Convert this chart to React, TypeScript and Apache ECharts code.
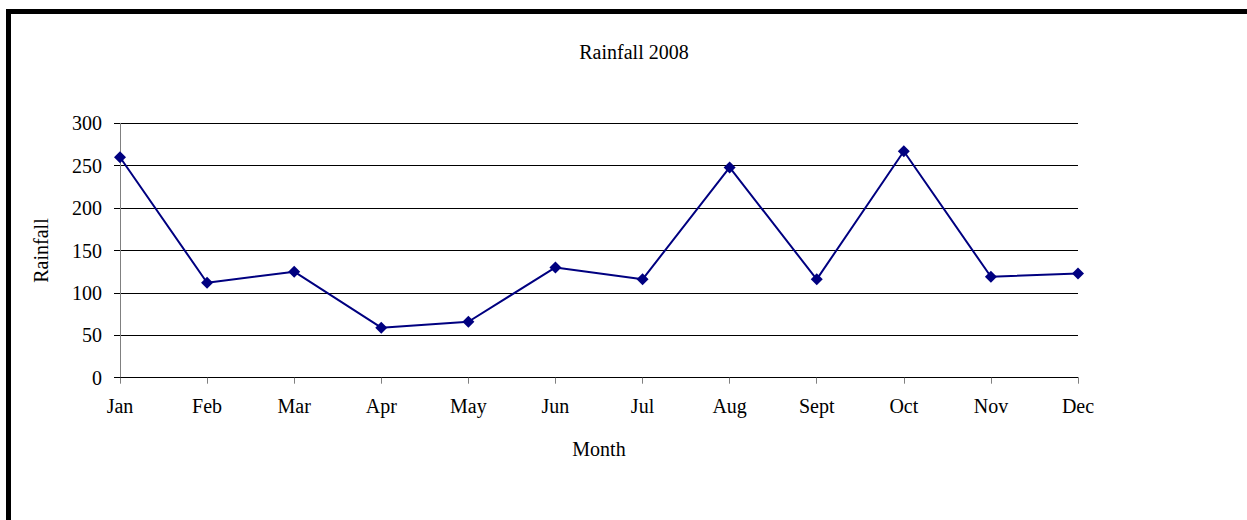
import React, { useEffect, useRef } from "react";
import * as echarts from "echarts";

const months = ["Jan", "Feb", "Mar", "Apr", "May", "Jun", "Jul", "Aug", "Sept", "Oct", "Nov", "Dec"];
const rainfall = [260, 112, 125, 59, 66, 130, 116, 248, 116, 267, 119, 123];
const chartTitle = "Rainfall 2008";
const xName = "Month";
const yName = "Rainfall";

const FONT = "'Liberation Serif', 'Times New Roman', serif";

export default function App() {
  const ref = useRef<HTMLDivElement>(null);
  useEffect(() => {
    if (!ref.current) return;
    const chart = echarts.init(ref.current, undefined, { renderer: "svg" });
    chart.setOption({
      animation: false,
      backgroundColor: "#ffffff",
      textStyle: { fontFamily: FONT },
      title: {
        text: chartTitle,
        left: 634,
        top: 42,
        padding: 0,
        textAlign: "center",
        textStyle: { fontFamily: FONT, fontSize: 20, fontWeight: "normal", color: "#000" },
      },
      graphic: [
        {
          type: "rect",
          shape: { x: 8.5, y: 11.5, width: 3000, height: 3000 },
          style: { fill: "none", stroke: "#000", lineWidth: 5 },
          silent: true,
          z: 100,
        },
      ],
      grid: { left: 120, right: 169, top: 123.3, bottom: 142.3, containLabel: false },
      xAxis: {
        type: "category",
        data: months,
        boundaryGap: false,
        name: xName,
        nameLocation: "middle",
        nameGap: 61,
        nameTextStyle: { fontFamily: FONT, fontSize: 20, color: "#000" },
        axisLine: { lineStyle: { color: "#000", width: 1 } },
        axisTick: { show: true, length: 6, alignWithLabel: true, lineStyle: { color: "#808080" } },
        axisLabel: { fontFamily: FONT, fontSize: 20, color: "#000", margin: 18 },
        splitLine: { show: false },
      },
      yAxis: {
        type: "value",
        min: 0,
        max: 300,
        interval: 50,
        name: yName,
        nameLocation: "middle",
        nameGap: 69,
        nameRotate: 90,
        nameTextStyle: { fontFamily: FONT, fontSize: 20, color: "#000" },
        axisLine: { show: true, lineStyle: { color: "#808080", width: 1 } },
        axisTick: { show: true, length: 6, lineStyle: { color: "#000" } },
        axisLabel: { fontFamily: FONT, fontSize: 20, color: "#000", margin: 18 },
        splitLine: { show: true, lineStyle: { color: "#000", width: 1 } },
      },
      series: [
        {
          type: "line",
          data: rainfall,
          symbol: "diamond",
          symbolSize: 12,
          showSymbol: true,
          lineStyle: { color: "#000080", width: 2 },
          itemStyle: { color: "#000080" },
          z: 10,
        },
      ],
    });
    return () => chart.dispose();
  }, []);
  return (
    <div
      ref={ref}
      style={{ position: "fixed", left: 0, top: 0, width: 1247, height: 520, background: "#fff" }}
    />
  );
}
